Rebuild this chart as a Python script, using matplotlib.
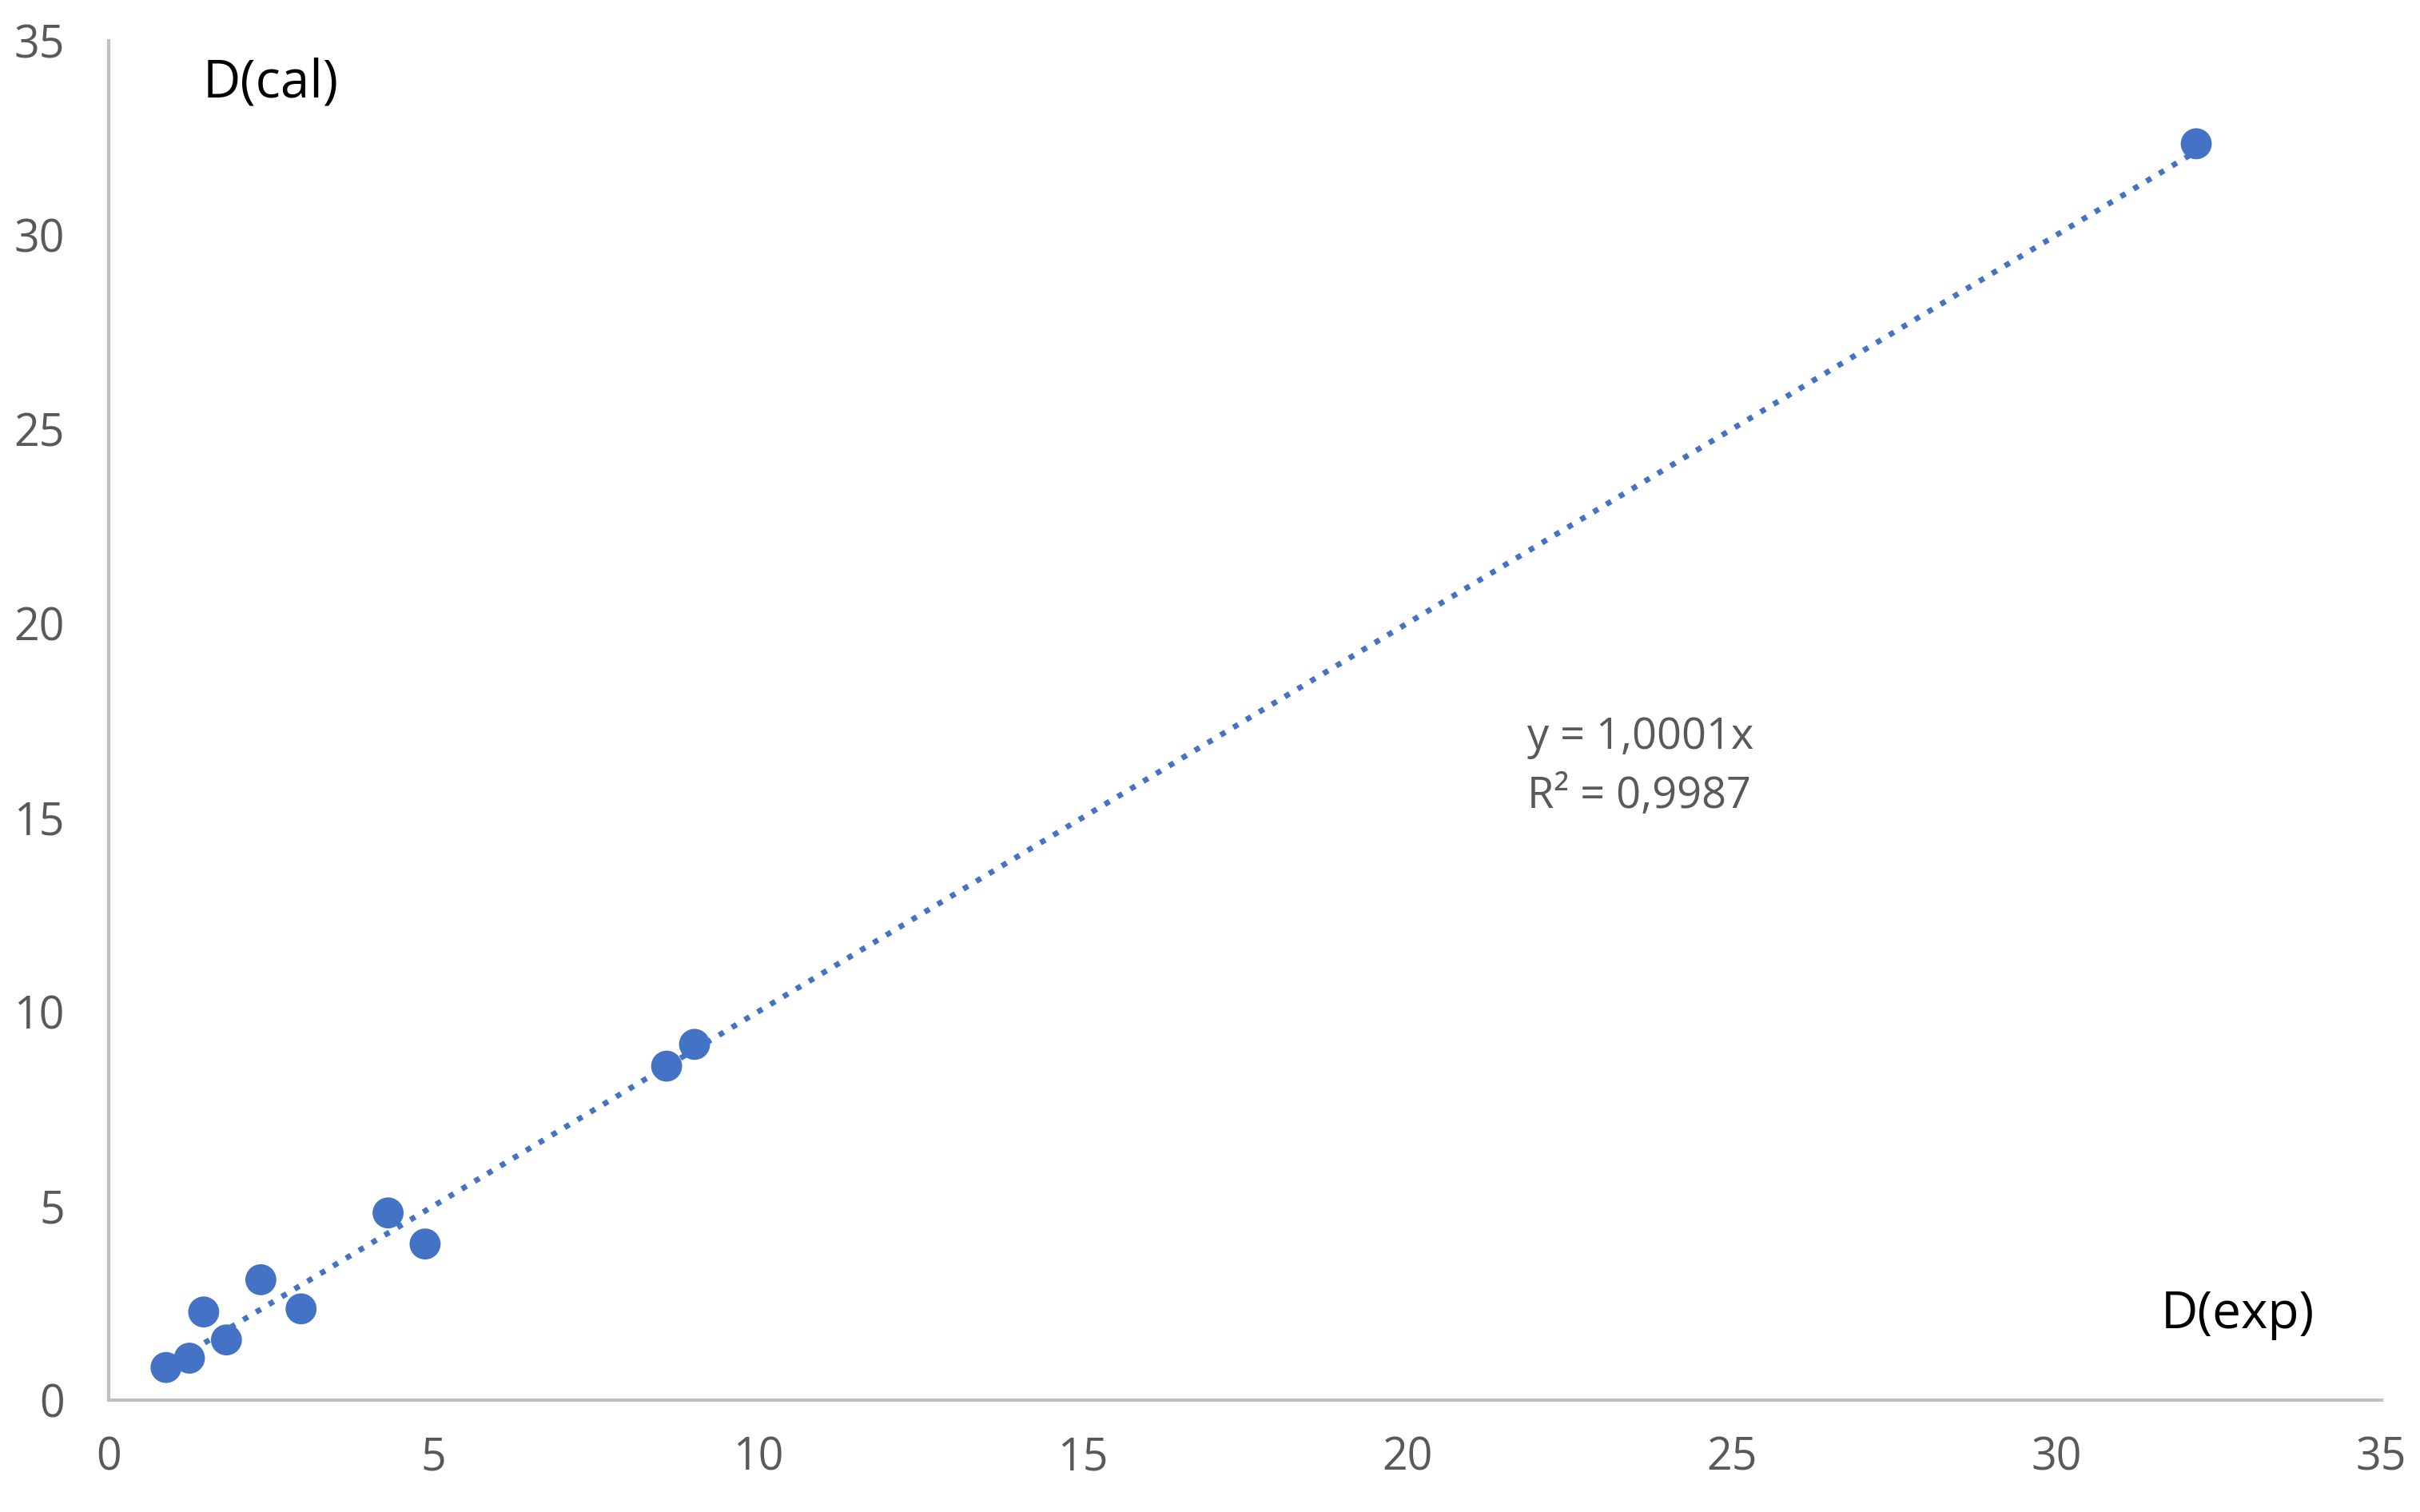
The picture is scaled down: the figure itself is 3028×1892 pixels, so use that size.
import matplotlib
matplotlib.use("Agg")
import matplotlib.pyplot as plt

# data
d_exp = [0.88, 1.24, 1.46, 1.81, 2.34, 2.96, 4.30, 4.87, 8.59, 9.02, 32.15]
d_cal = [0.84, 1.08, 2.27, 1.55, 3.10, 2.35, 4.82, 4.02, 8.60, 9.16, 32.35]
slope = 1.0001
eq_lines = ["y = 1,0001x", "R² = 0,9987"]
ticks = [0, 5, 10, 15, 20, 25, 30, 35]

blue = "#4472C4"
grey = "#595959"
plt.rcParams['font.family'] = ['Open Sans', 'DejaVu Sans']

fig = plt.figure(figsize=(15.14, 9.46), dpi=200)
ax = fig.add_axes([0.045, 0.074, 0.939, 0.899])

# trendline through origin, across the data range
x0, x1 = min(d_exp), max(d_exp)
ax.plot([x0, x1], [slope * x0, slope * x1], color=blue, lw=2.5,
        linestyle=(0, (1, 1.7)), dash_capstyle='butt', zorder=2)
ax.scatter(d_exp, d_cal, s=195, color=blue, edgecolors='none', zorder=3)

ax.set_xlim(0, 35)
ax.set_ylim(0, 35)
ax.set_xticks(ticks)
ax.set_yticks(ticks)
ax.tick_params(length=0, labelsize=20, colors=grey)
ax.tick_params(axis='x', pad=16)
ax.tick_params(axis='y', pad=20)
for side in ['top', 'right']:
    ax.spines[side].set_visible(False)
for side in ['left', 'bottom']:
    ax.spines[side].set_color('#BFBFBF')
    ax.spines[side].set_linewidth(1.5)

ax.text(1.45, 33.9, "D(cal)", fontsize=23.5, color='black', va='center', ha='left')
ax.text(31.6, 2.2, "D(exp)", fontsize=23, color='black', va='center', ha='left')
ax.text(21.85, 16.3, "\n".join(eq_lines), fontsize=19.5, color=grey,
        va='center', ha='left', linespacing=1.45)

fig.savefig("out.png", dpi=200, facecolor='white')
